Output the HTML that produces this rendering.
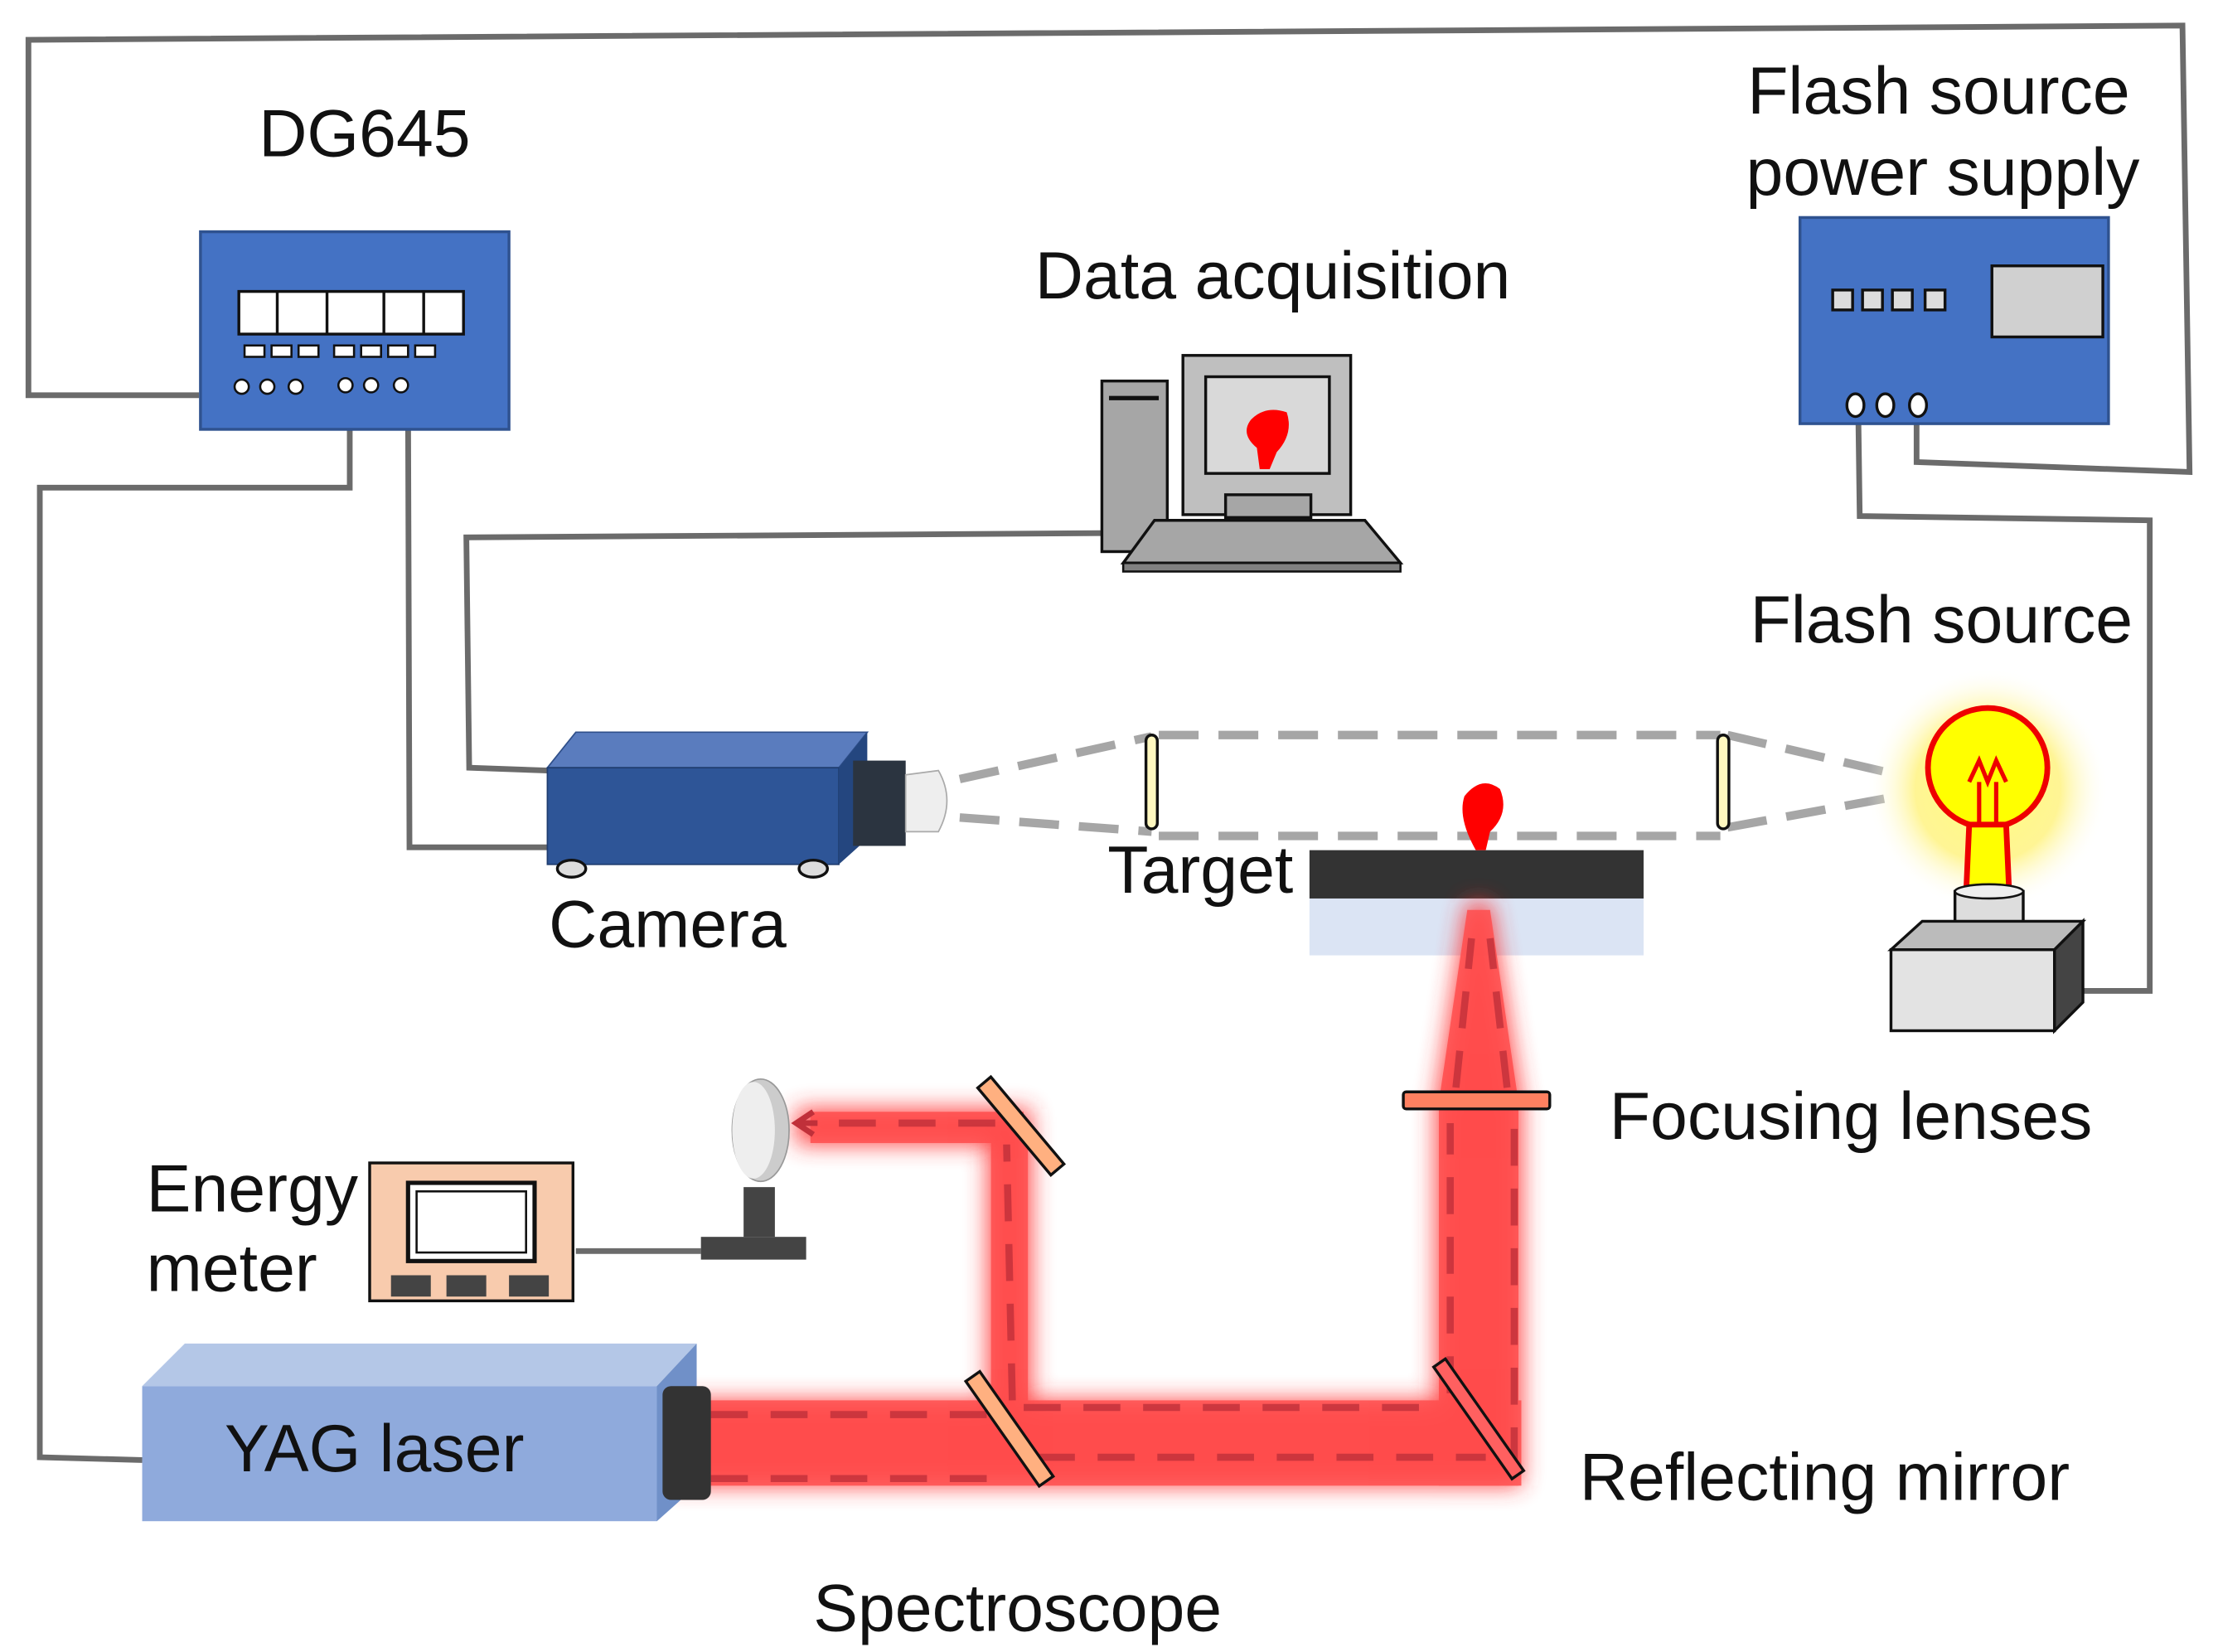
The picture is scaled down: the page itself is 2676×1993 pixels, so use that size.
<!DOCTYPE html>
<html><head><meta charset="utf-8"><style>
html,body{margin:0;padding:0;background:#fff;}
svg{display:block;}
text{font-family:"Liberation Sans",sans-serif;fill:#111;}
</style></head><body>
<svg width="2676" height="1993" viewBox="0 0 1560 1162" preserveAspectRatio="none" xmlns="http://www.w3.org/2000/svg">
<defs>
<filter id="blur" x="-20%" y="-20%" width="140%" height="140%"><feGaussianBlur stdDeviation="8"/></filter>
<radialGradient id="glow"><stop offset="0" stop-color="#ffff80"/><stop offset="0.6" stop-color="#fff27a" stop-opacity="0.8"/><stop offset="1" stop-color="#fff" stop-opacity="0"/></radialGradient>
</defs>
<g fill="none" stroke="#6b6b6b" stroke-width="4">
<polyline points="140,278 20,278 20,28 1535,18 1540,332 1348,325 1348,290"/>
<polyline points="246,285 246,343 28,343 28,1025 100,1027"/>
<polyline points="287,285 288,596 385,596"/>
<polyline points="775,375 328,378 330,540 385,542"/>
<polyline points="1307,290 1308,363 1512,366 1512,697 1465,697"/>
<line x1="405" y1="880" x2="493" y2="880"/>
</g>
<rect x="141" y="163" width="217" height="139" fill="#4472c4" stroke="#2f528f" stroke-width="2"/>
<rect x="168" y="205" width="158" height="30" fill="#fff" stroke="#111" stroke-width="2"/>
<g stroke="#111" stroke-width="2"><line x1="195" y1="205" x2="195" y2="235"/><line x1="230" y1="205" x2="230" y2="235"/><line x1="270" y1="205" x2="270" y2="235"/><line x1="298" y1="205" x2="298" y2="235"/></g>
<g fill="#fff" stroke="#111" stroke-width="1.5">
<rect x="172" y="243" width="14" height="8"/><rect x="191" y="243" width="14" height="8"/><rect x="210" y="243" width="14" height="8"/><rect x="235" y="243" width="14" height="8"/><rect x="254" y="243" width="14" height="8"/><rect x="273" y="243" width="14" height="8"/><rect x="292" y="243" width="14" height="8"/>
<circle cx="170" cy="272" r="5"/><circle cx="188" cy="272" r="5"/><circle cx="208" cy="272" r="5"/><circle cx="243" cy="271" r="5"/><circle cx="261" cy="271" r="5"/><circle cx="282" cy="271" r="5"/>
</g>
<rect x="1266" y="153" width="217" height="145" fill="#4472c4" stroke="#2f528f" stroke-width="2"/>
<g fill="#ddd" stroke="#111" stroke-width="2"><rect x="1289" y="204" width="14" height="14"/><rect x="1310" y="204" width="14" height="14"/><rect x="1331" y="204" width="14" height="14"/><rect x="1354" y="204" width="14" height="14"/>
<rect x="1401" y="187" width="78" height="50" fill="#d0d0d0"/></g>
<g fill="#fff" stroke="#111" stroke-width="2"><ellipse cx="1305" cy="285" rx="6" ry="8"/><ellipse cx="1326" cy="285" rx="6" ry="8"/><ellipse cx="1349" cy="285" rx="6" ry="8"/></g>
<rect x="775" y="268" width="46" height="120" fill="#a6a6a6" stroke="#111" stroke-width="2"/>
<line x1="780" y1="280" x2="815" y2="280" stroke="#111" stroke-width="3"/>
<rect x="832" y="250" width="118" height="112" fill="#bfbfbf" stroke="#111" stroke-width="2"/>
<rect x="848" y="265" width="87" height="68" fill="#d9d9d9" stroke="#111" stroke-width="2"/>
<path d="M880 295 Q890 285 905 290 Q910 305 898 318 L893 330 L886 330 L884 315 Q872 305 880 295Z" fill="#f00"/>
<rect x="862" y="348" width="60" height="16" fill="#a6a6a6" stroke="#111" stroke-width="2"/>
<path d="M812 366 L960 366 L985 396 L790 396 Z" fill="#a6a6a6" stroke="#111" stroke-width="2"/>
<rect x="790" y="396" width="195" height="6" fill="#808080" stroke="#111" stroke-width="1.5"/>
<path d="M385 540 L405 515 L610 515 L590 540 Z" fill="#5a7cbe" stroke="#2f4f8a"/>
<rect x="385" y="540" width="205" height="68" fill="#2e5597" stroke="#1f3d70"/>
<path d="M590 540 L610 515 L610 590 L590 608 Z" fill="#24467f"/>
<rect x="600" y="535" width="37" height="60" fill="#2b3440"/>
<path d="M637 545 L660 542 Q672 563 660 585 L637 585 Z" fill="#eee" stroke="#aaa"/>
<ellipse cx="402" cy="611" rx="10" ry="6" fill="#ddd" stroke="#111" stroke-width="2"/>
<ellipse cx="572" cy="611" rx="10" ry="6" fill="#ddd" stroke="#111" stroke-width="2"/>
<g stroke="#a6a6a6" stroke-width="6" stroke-dasharray="28,14" fill="none">
<line x1="675" y1="548" x2="810" y2="518"/><line x1="675" y1="575" x2="810" y2="585"/>
<line x1="815" y1="517" x2="1210" y2="517"/><line x1="815" y1="588" x2="1210" y2="588"/>
<line x1="1215" y1="517" x2="1335" y2="545"/><line x1="1215" y1="582" x2="1335" y2="560"/>
</g>
<rect x="806" y="517" width="8" height="66" rx="4" fill="#fff8c0" stroke="#111" stroke-width="2"/>
<rect x="1208" y="517" width="8" height="66" rx="4" fill="#fff8c0" stroke="#111" stroke-width="2"/>
<rect x="921" y="598" width="235" height="34" fill="#333"/>
<rect x="921" y="632" width="235" height="40" fill="#dbe4f4"/>
<path d="M1030 560 Q1042 545 1055 555 Q1062 572 1048 585 L1045 598 L1038 598 Q1025 575 1030 560Z" fill="#f00"/>
<circle cx="1398" cy="555" r="85" fill="url(#glow)"/>
<circle cx="1398" cy="540" r="42" fill="#ffff00" stroke="#e00" stroke-width="4"/>
<path d="M1385 580 L1411 580 L1413 625 L1383 625 Z" fill="#ffff00" stroke="#e00" stroke-width="4"/>
<path d="M1385 550 L1392 535 L1398 550 L1404 535 L1411 550 M1392 550 L1392 580 M1404 550 L1404 580" stroke="#e00" stroke-width="3" fill="none"/>
<rect x="1375" y="627" width="48" height="33" fill="#ddd" stroke="#111" stroke-width="2"/>
<ellipse cx="1399" cy="627" rx="24" ry="5" fill="#eee" stroke="#111" stroke-width="1.5"/>
<path d="M1330 668 L1352 648 L1465 648 L1445 668 Z" fill="#bbb" stroke="#111" stroke-width="2"/>
<rect x="1330" y="668" width="115" height="57" fill="#e3e3e3" stroke="#111" stroke-width="2"/>
<path d="M1445 668 L1465 648 L1465 705 L1445 725 Z" fill="#444" stroke="#111" stroke-width="2"/>
<g filter="url(#blur)" opacity="0.9">
<rect x="470" y="985" width="600" height="60" fill="#ff3333"/>
<rect x="1010" y="775" width="60" height="270" fill="#ff3333"/>
<path d="M1010 775 L1032 635 L1048 635 L1070 775 Z" fill="#ff3333"/>
<rect x="695" y="785" width="30" height="205" fill="#ff3333"/>
<rect x="560" y="780" width="165" height="25" fill="#ff3333"/>
</g>
<g fill="#ff4d4d" opacity="0.85">
<rect x="490" y="985" width="580" height="60"/>
<rect x="1012" y="775" width="56" height="270"/>
<path d="M1012 775 L1032 640 L1048 640 L1068 775 Z"/>
<rect x="697" y="790" width="26" height="200"/>
<rect x="570" y="782" width="150" height="22"/>
</g>
<g stroke="#c0303a" stroke-width="5" stroke-dasharray="26,16" fill="none" opacity="0.8">
<line x1="500" y1="995" x2="700" y2="995"/><line x1="500" y1="1040" x2="700" y2="1040"/>
<line x1="720" y1="990" x2="1010" y2="990"/><line x1="730" y1="1025" x2="1045" y2="1025"/>
<line x1="1020" y1="980" x2="1020" y2="790"/><line x1="1065" y1="1030" x2="1065" y2="790"/>
<line x1="1024" y1="765" x2="1035" y2="660"/><line x1="1060" y1="765" x2="1048" y2="660"/>
<line x1="712" y1="985" x2="708" y2="805"/><line x1="700" y1="790" x2="575" y2="790"/>
</g>
<path d="M575 790 L562 790 M572 782 L560 790 L572 798" stroke="#c0303a" stroke-width="4" fill="none"/>
<g fill="#ffb080" stroke="#111" stroke-width="2">
<rect x="-6" y="-40" width="12" height="80" transform="translate(718,792) rotate(-40)"/>
<rect x="-6" y="-45" width="12" height="90" transform="translate(710,1005) rotate(-35)"/>
<rect x="-5" y="-48" width="10" height="96" transform="translate(1040,998) rotate(-35)" fill="#ff6060"/>
<rect x="987" y="768" width="103" height="12" rx="2" fill="#ff8060"/>
</g>
<rect x="523" y="835" width="22" height="35" fill="#444"/>
<rect x="493" y="870" width="74" height="16" fill="#444"/>
<ellipse cx="535" cy="795" rx="20" ry="36" fill="#ccc" stroke="#999"/>
<ellipse cx="530" cy="795" rx="15" ry="34" fill="#eee"/>
<rect x="260" y="818" width="143" height="97" fill="#f8cbad" stroke="#111" stroke-width="2"/>
<rect x="287" y="832" width="89" height="55" fill="#fff" stroke="#111" stroke-width="3"/>
<rect x="293" y="838" width="77" height="43" fill="none" stroke="#111" stroke-width="1.5"/>
<g fill="#444"><rect x="275" y="897" width="28" height="15"/><rect x="314" y="897" width="28" height="15"/><rect x="358" y="897" width="28" height="15"/></g>
<path d="M100 975 L130 945 L490 945 L462 975 Z" fill="#b4c7e7"/>
<rect x="100" y="975" width="362" height="95" fill="#8faadc"/>
<path d="M462 975 L490 945 L490 1045 L462 1070 Z" fill="#7090c8"/>
<rect x="466" y="975" width="34" height="80" rx="6" fill="#333"/>
<g font-size="47">
<text x="182" y="110">DG645</text>
<text x="1229" y="80">Flash source</text>
<text x="1228" y="137">power supply</text>
<text x="728" y="210">Data acquisition</text>
<text x="1231" y="452">Flash source</text>
<text x="386" y="666">Camera</text>
<text x="779" y="628">Target</text>
<text x="1132" y="801">Focusing lenses</text>
<text x="103" y="852">Energy</text>
<text x="103" y="908">meter</text>
<text x="158" y="1035">YAG laser</text>
<text x="1111" y="1055">Reflecting mirror</text>
<text x="572" y="1147">Spectroscope</text>
</g>
</svg>
</body></html>
